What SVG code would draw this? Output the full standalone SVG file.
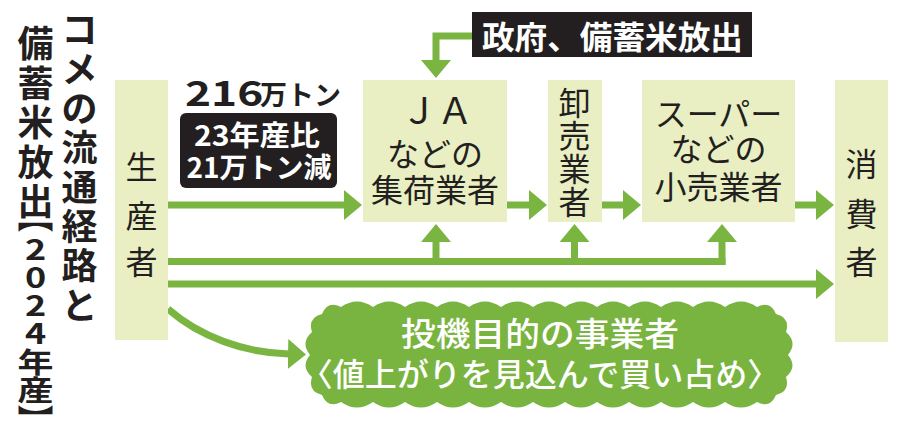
<svg xmlns="http://www.w3.org/2000/svg" width="900" height="424" viewBox="0 0 900 424">
<style>
text{font-family:"Noto Sans CJK JP","Noto Sans CJK SC",sans-serif;}
.box{fill:#e9efc2;}
.nt{font-size:32px;fill:#231f20;text-anchor:middle;dominant-baseline:central;}
.tt{font-size:36px;font-weight:bold;fill:#231f20;text-anchor:middle;dominant-baseline:central;}
.dark{fill:#231f20;}
.wt{fill:#ffffff;text-anchor:middle;dominant-baseline:central;}
.conn{fill:none;stroke:#7ab542;stroke-width:7;}
.ah{marker-end:url(#ah);}
</style>
<defs>
<marker id="ah" markerUnits="userSpaceOnUse" viewBox="0 0 18 30" markerWidth="18" markerHeight="30" refX="1" refY="15" orient="auto">
<path d="M0,0 L18,15 L0,30 Z" fill="#7ab542"/>
</marker>
</defs>

<g id="title">
<text class="tt"><tspan x="79.5" y="27">コ</tspan><tspan x="79.5" y="66.5">メ</tspan><tspan x="79.5" y="106">の</tspan><tspan x="79.5" y="145">流</tspan><tspan x="79.5" y="184.5">通</tspan><tspan x="79.5" y="224">経</tspan><tspan x="79.5" y="263">路</tspan><tspan x="79.5" y="303">と</tspan></text>
<text class="tt"><tspan x="35.5" y="41">備</tspan><tspan x="35.5" y="80.5">蓄</tspan><tspan x="35.5" y="120">米</tspan><tspan x="35.5" y="159.5">放</tspan><tspan x="35.5" y="199">出</tspan></text>
<text class="tt" transform="translate(35.5,0) scale(1,0.8)"><tspan x="0" y="270">︻</tspan><tspan x="0" y="308.1">2</tspan><tspan x="0" y="343.1">0</tspan><tspan x="0" y="378.1">2</tspan><tspan x="0" y="413.1">4</tspan><tspan x="0" y="449.4">年</tspan><tspan x="0" y="485">産</tspan><tspan x="0" y="521.2">︼</tspan></text>
</g>

<g id="connectors">
<path class="conn ah" d="M168,205 H345"/>
<path class="conn ah" d="M507,205 H530"/>
<path class="conn ah" d="M602,205 H624"/>
<path class="conn ah" d="M795,205 H817"/>
<path class="conn" d="M168,261.5 H725.5"/>
<path class="conn ah" d="M436,265 V241"/>
<path class="conn ah" d="M574.5,265 V241"/>
<path class="conn ah" d="M722,265 V241"/>
<path class="conn ah" d="M168,284 H817"/>
<path class="conn ah" d="M473,36 H436 V61"/>
<path class="conn ah" d="M168,309 C200,337 245,353 289,354"/>
</g>

<g id="producer">
<rect class="box" x="115" y="80" width="53" height="260"/>
<text class="nt"><tspan x="141.5" y="165">生</tspan><tspan x="141.5" y="214">産</tspan><tspan x="141.5" y="260">者</tspan></text>
</g>

<g id="ja">
<rect class="box" x="363" y="80" width="144" height="142"/>
<text class="nt"><tspan x="437" y="108" style="font-size:36px">ＪＡ</tspan><tspan x="435" y="152">などの</tspan><tspan x="435" y="188">集荷業者</tspan></text>
</g>

<g id="wholesaler">
<rect class="box" x="548" y="80" width="54" height="142"/>
<text class="nt"><tspan x="574.5" y="101">卸</tspan><tspan x="574.5" y="134">売</tspan><tspan x="574.5" y="167">業</tspan><tspan x="574.5" y="200">者</tspan></text>
</g>

<g id="retailer">
<rect class="box" x="642" y="80" width="153" height="142"/>
<text class="nt"><tspan x="718.5" y="112">スーパー</tspan><tspan x="718.5" y="147">などの</tspan><tspan x="718.5" y="185">小売業者</tspan></text>
</g>

<g id="consumer">
<rect class="box" x="835" y="80" width="53" height="262"/>
<text class="nt"><tspan x="861.5" y="162">消</tspan><tspan x="861.5" y="212">費</tspan><tspan x="861.5" y="260">者</tspan></text>
</g>

<g id="government">
<rect class="dark" x="472" y="12" width="280" height="45"/>
<text class="wt" x="612.5" y="35" style="font-size:32px;font-weight:bold" textLength="261" lengthAdjust="spacingAndGlyphs">政府、備蓄米放出</text>
</g>

<g id="volume">
<text transform="translate(185,106) scale(1.3,1)" style="font-size:34px;font-weight:bold;fill:#231f20">216</text>
<text x="260" y="105" style="font-size:27px;font-weight:bold;fill:#231f20">万トン</text>
<rect class="dark" x="180" y="113" width="157" height="75" rx="6"/>
<text class="wt" style="font-size:28px;font-weight:bold"><tspan x="257" y="134" textLength="126" lengthAdjust="spacingAndGlyphs">23年産比</tspan><tspan x="259" y="166" textLength="145" lengthAdjust="spacingAndGlyphs">21万トン減</tspan></text>
</g>

<g id="speculator">
<path fill="#7ab440" d="M341,307 Q357,296 373,307 Q389,296 405,307 Q421,296 437,307 Q453,296 469,307 Q485,296 501,307 Q517,296 533,307 Q549,296 565,307 Q581,296 597,307 Q613,296 629,307 Q645,296 661,307 Q677,296 693,307 Q709,296 725,307 Q741,296 757,307 Q770.3,300.2 776,314 Q790.6,317.7 786,332 Q798,342.5 788,355 Q797.9,367 786,377 Q790.6,391.3 776,395 Q770.3,408.8 757,402 Q741,413 725,402 Q709,413 693,402 Q677,413 661,402 Q645,413 629,402 Q613,413 597,402 Q581,413 565,402 Q549,413 533,402 Q517,413 501,402 Q485,413 469,402 Q453,413 437,402 Q421,413 405,402 Q389,413 373,402 Q357,413 341,402 Q327.7,408.8 322,395 Q307.4,391.3 312,377 Q300.1,367 310,355 Q300,342.5 312,332 Q307.4,317.7 322,314 Q327.7,300.2 341,307 Z"/>
<text class="wt" style="font-weight:500"><tspan x="540" y="331.5" style="font-size:33px" textLength="278" lengthAdjust="spacingAndGlyphs">投機目的の事業者</tspan><tspan x="540" y="371.5" style="font-size:32px">〈値上がりを見込んで買い占め〉</tspan></text>
</g>
</svg>
